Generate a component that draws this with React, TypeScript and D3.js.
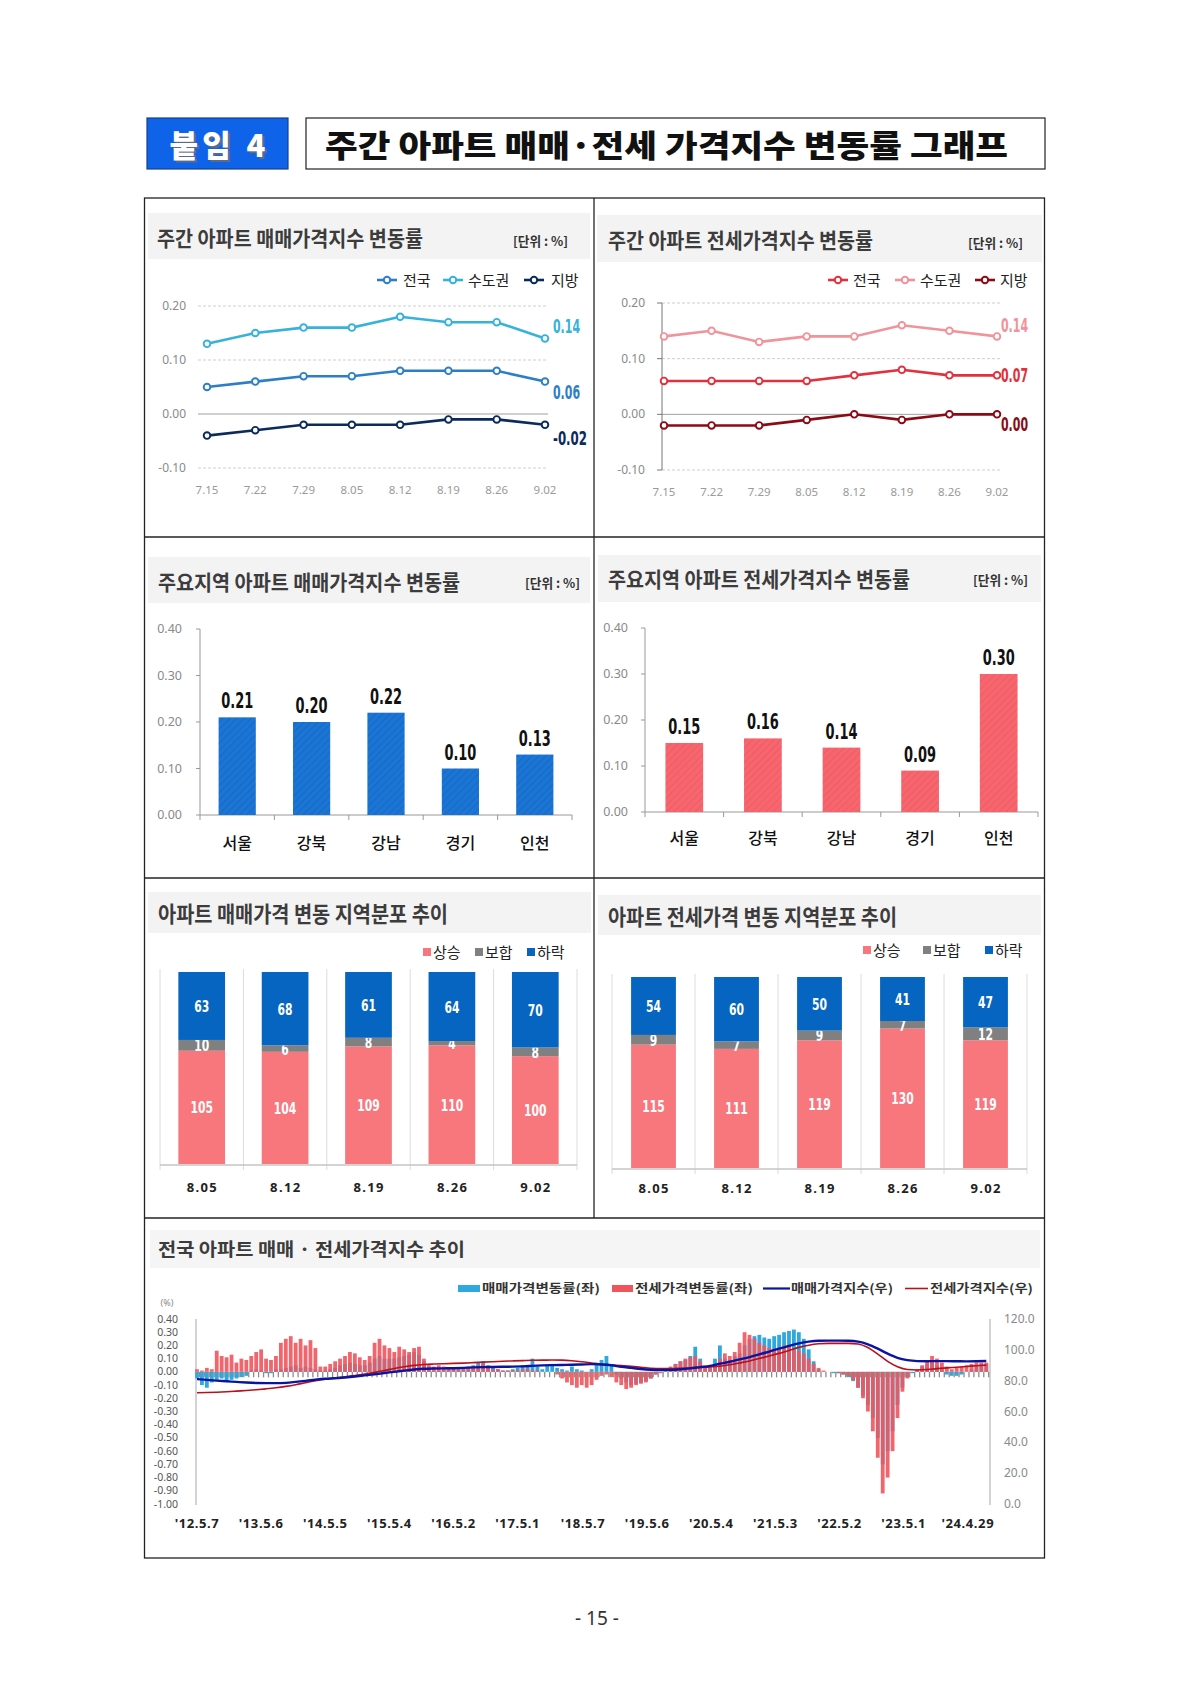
import React from 'react';
import * as d3 from 'd3';

const KR = "'Noto Sans CJK KR','Noto Sans',sans-serif";
const NARROW = "'Liberation Sans Narrow','DejaVu Sans Condensed',Arial,sans-serif";
const PLAIN = "'Noto Sans','DejaVu Sans',sans-serif";

// weekly change rates (%)
const weekLabels = ['7.15', '7.22', '7.29', '8.05', '8.12', '8.19', '8.26', '9.02'];
const saleNation = [0.05, 0.06, 0.07, 0.07, 0.08, 0.08, 0.08, 0.06];
const saleCapital = [0.13, 0.15, 0.16, 0.16, 0.18, 0.17, 0.17, 0.14];
const saleLocal = [-0.04, -0.03, -0.02, -0.02, -0.02, -0.01, -0.01, -0.02];
const jeonseNation = [0.06, 0.06, 0.06, 0.06, 0.07, 0.08, 0.07, 0.07];
const jeonseCapital = [0.14, 0.15, 0.13, 0.14, 0.14, 0.16, 0.15, 0.14];
const jeonseLocal = [-0.02, -0.02, -0.02, -0.01, 0.0, -0.01, 0.0, 0.0];

// major regions
const regions = ['서울', '강북', '강남', '경기', '인천'];
const saleRegion = [0.21, 0.2, 0.22, 0.1, 0.13];
const jeonseRegion = [0.15, 0.16, 0.14, 0.09, 0.3];

// regional distribution (number of regions)
const distWeeks = ['8.05', '8.12', '8.19', '8.26', '9.02'];
const saleUp = [105, 104, 109, 110, 100];
const saleFlat = [10, 6, 8, 4, 8];
const saleDown = [63, 68, 61, 64, 70];
const jeonseUp = [115, 111, 119, 130, 119];
const jeonseFlat = [9, 7, 9, 7, 12];
const jeonseDown = [54, 60, 50, 41, 47];

// long-run series: change rates every 4 weeks from 2012-05-07, indices every 8 weeks
const saleChange = [
  -0.05, -0.1, -0.12, -0.08, -0.06, -0.05, -0.07, -0.06, -0.05, -0.04, -0.03, 0.01, 0.02,
  0.01, -0.01, -0.01, 0.02, 0.02, 0.03, 0.04, 0.05, 0.03, 0.04, 0.03, 0.02, 0.01,
  0.01, 0.02, 0.03, 0.05, 0.06, 0.07, 0.06, 0.05, 0.05, 0.07, 0.1, 0.12, 0.1,
  0.1, 0.1, 0.11, 0.12, 0.13, 0.15, 0.13, 0.08, 0.03, 0.01, 0.01, 0.02, 0.02,
  0.02, 0.02, 0.03, 0.04, 0.05, 0.07, 0.08, 0.05, 0.03, 0.02, 0.01, 0.01, 0.02,
  0.03, 0.05, 0.04, 0.1, 0.04, 0.02, 0.05, 0.06, 0.03, 0.02, 0.01, 0.04, 0.02,
  0.01, 0.0, 0.02, 0.05, 0.09, 0.12, 0.05, -0.02, -0.05, -0.08, -0.1, -0.09, -0.08,
  -0.07, -0.05, -0.02, 0.0, 0.01, 0.03, 0.06, 0.08, 0.09, 0.12, 0.19, 0.1, 0.03,
  0.04, 0.1, 0.2, 0.1, 0.09, 0.12, 0.14, 0.2, 0.25, 0.27, 0.28, 0.26, 0.25,
  0.27, 0.28, 0.3, 0.31, 0.32, 0.3, 0.25, 0.17, 0.08, 0.02, 0.0, 0.0, -0.01,
  -0.01, -0.02, -0.04, -0.07, -0.12, -0.18, -0.25, -0.35, -0.5, -0.7, -0.6, -0.45, -0.25,
  -0.12, -0.04, -0.01, 0.01, 0.04, 0.06, 0.07, 0.05, 0.02, -0.02, -0.03, -0.03, -0.02,
  0.0, 0.02, 0.04, 0.06, 0.06,
];
const jeonseChange = [
  0.02, 0.01, 0.03, 0.02, 0.16, 0.12, 0.11, 0.13, 0.07, 0.1, 0.09, 0.12, 0.15,
  0.17, 0.1, 0.09, 0.12, 0.22, 0.25, 0.27, 0.22, 0.25, 0.2, 0.24, 0.18, 0.04,
  0.04, 0.06, 0.08, 0.1, 0.12, 0.15, 0.14, 0.11, 0.09, 0.12, 0.22, 0.25, 0.2,
  0.18, 0.15, 0.19, 0.17, 0.15, 0.18, 0.19, 0.1, 0.05, 0.04, 0.05, 0.04, 0.03,
  0.03, 0.02, 0.02, 0.03, 0.04, 0.05, 0.06, 0.04, 0.02, 0.02, 0.01, 0.01, 0.01,
  0.01, 0.02, 0.02, 0.01, 0.01, 0.0, 0.0, 0.0, -0.02, -0.05, -0.08, -0.1, -0.12,
  -0.1, -0.12, -0.1, -0.06, -0.03, -0.02, -0.04, -0.08, -0.1, -0.13, -0.12, -0.1, -0.09,
  -0.08, -0.05, -0.02, -0.01, 0.0, 0.04, 0.06, 0.08, 0.1, 0.11, 0.12, 0.08, 0.04,
  0.03, 0.05, 0.1, 0.14, 0.12, 0.15, 0.22, 0.3, 0.28, 0.25, 0.22, 0.2, 0.18,
  0.17, 0.18, 0.2, 0.19, 0.17, 0.16, 0.14, 0.1, 0.06, 0.03, 0.01, 0.0, 0.0,
  -0.01, -0.02, -0.03, -0.06, -0.12, -0.2, -0.3, -0.45, -0.65, -0.92, -0.8, -0.6, -0.35,
  -0.15, -0.05, 0.0, 0.02, 0.05, 0.08, 0.12, 0.1, 0.07, 0.04, 0.02, 0.03, 0.04,
  0.05, 0.06, 0.07, 0.07, 0.07,
];
const saleIndex = [
  81.0, 80.5, 80.0, 79.6, 79.2, 78.8, 78.5, 78.4, 78.4, 78.6, 79.2, 79.9, 80.6, 81.2, 81.6, 82.1,
  82.7, 83.4, 84.2, 85.0, 85.7, 86.5, 87.2, 87.7, 87.9, 88.0, 88.1, 88.3, 88.6, 88.8, 88.9, 89.0,
  89.1, 89.3, 89.6, 89.9, 90.1, 90.2, 90.3, 90.5, 90.7, 90.5, 90.0, 89.0, 88.3, 87.6, 87.1, 86.9,
  87.0, 87.4, 88.0, 88.8, 89.6, 91.0, 92.3, 93.8, 95.3, 97.0, 98.9, 100.8, 102.6, 104.2, 105.3, 105.9,
  106.0, 106.0, 105.9, 105.3, 103.6, 100.8, 97.5, 94.8, 93.3, 92.7, 92.6, 92.7, 92.7, 92.6, 92.5, 92.6,
  92.8,
];
const jeonseIndex = [
  72.2, 72.3, 72.5, 72.8, 73.2, 73.6, 74.1, 74.7, 75.4, 76.3, 77.4, 78.7, 80.0, 81.0, 81.7, 82.5,
  83.4, 84.3, 85.4, 86.6, 87.9, 89.0, 89.9, 90.5, 90.8, 91.0, 91.2, 91.4, 91.7, 92.0, 92.3, 92.6,
  92.8, 93.0, 93.2, 93.3, 93.4, 93.3, 92.9, 92.3, 91.5, 90.7, 90.2, 89.8, 89.3, 88.7, 88.1, 87.8,
  87.8, 88.0, 88.3, 88.6, 88.9, 89.4, 90.3, 91.5, 92.8, 94.4, 96.0, 97.7, 99.6, 101.6, 103.0, 103.9,
  104.2, 104.2, 104.2, 103.8, 101.5, 97.2, 92.5, 89.0, 87.2, 86.9, 87.2, 87.8, 88.3, 88.7, 89.2, 89.7,
  90.1,
];
const longTickLabels = ["'12.5.7", "'13.5.6", "'14.5.5", "'15.5.4", "'16.5.2", "'17.5.1", "'18.5.7", "'19.5.6", "'20.5.4", "'21.5.3", "'22.5.2", "'23.5.1", "'24.4.29"];
const longTickDates = ['2012-05-07', '2013-05-06', '2014-05-05', '2015-05-04', '2016-05-02', '2017-05-01', '2018-05-07', '2019-05-06', '2020-05-04', '2021-05-03', '2022-05-02', '2023-05-01', '2024-04-29'];

type Series = { name: string; values: number[]; color: string; dy: number };
type LegendItem = { name: string; color: string; lineX: number; textX: number };

function PanelTitle({ x, y, text, len, size, band }: { x: number; y: number; text: string; len: number; size: number; band: [number, number, number, number] }) {
  return (
    <g>
      <rect x={band[0]} y={band[1]} width={band[2] - band[0]} height={band[3] - band[1]} fill="#f3f3f3" />
      <text x={x} y={y} fontSize={size} fontWeight={700} fill="#3c3c3c" fontFamily={KR} textLength={len} lengthAdjust="spacingAndGlyphs">{text}</text>
    </g>
  );
}

function Unit({ x, y }: { x: number; y: number }) {
  return <text x={x} y={y} fontSize={13} fontWeight={700} fill="#333" fontFamily={KR} textLength={55} lengthAdjust="spacingAndGlyphs">[단위 : %]</text>;
}

function WeeklyLines({ series, legend, xRange, yRange, grid, axisX, tickX, xLabelY, endX }: {
  series: Series[]; legend: LegendItem[]; xRange: [number, number]; yRange: [number, number];
  grid: [number, number]; axisX: number | null; tickX: number; xLabelY: number; endX: number;
}) {
  const x = d3.scalePoint<string>().domain(weekLabels).range(xRange);
  const y = d3.scaleLinear().domain([-0.1, 0.2]).range(yRange);
  const ticks = y.ticks(3);
  return (
    <g>
      {legend.map(l => (
        <g key={l.name}>
          <line x1={l.lineX} x2={l.lineX + 20} y1={280} y2={280} stroke={l.color} strokeWidth={2.6} />
          <circle cx={l.lineX + 10} cy={280} r={3.2} fill="#fff" stroke={l.color} strokeWidth={2} />
          <text x={l.textX} y={286} fontSize={15} fill="#222" fontFamily={KR}>{l.name}</text>
        </g>
      ))}
      {ticks.map(t => (
        <g key={t}>
          <line x1={grid[0]} x2={grid[1]} y1={y(t)} y2={y(t)} stroke={t === 0 ? '#a0a0a0' : '#cfcfcf'} strokeDasharray={t === 0 ? undefined : '3,2'} />
          {axisX !== null && <line x1={axisX - 5} x2={axisX} y1={y(t)} y2={y(t)} stroke="#777" />}
          <text x={tickX} y={y(t) + 4} textAnchor="end" fontSize={12} fill="#8a8a8a" fontFamily={PLAIN}>{t.toFixed(2)}</text>
        </g>
      ))}
      {axisX !== null && <line x1={axisX} x2={axisX} y1={y(0.2)} y2={y(-0.1)} stroke="#777" />}
      {weekLabels.map(w => (
        <text key={w} x={x(w)} y={xLabelY} textAnchor="middle" fontSize={11.5} fill="#9a9a9a" fontFamily={PLAIN}>{w}</text>
      ))}
      {series.map(s => {
        const line = d3.line<number>().x((_, i) => x(weekLabels[i]) as number).y(v => y(v));
        const last = s.values[s.values.length - 1];
        const label = last.toFixed(2);
        return (
          <g key={s.name}>
            <path d={line(s.values) || ''} fill="none" stroke={s.color} strokeWidth={2.6} />
            {s.values.map((v, i) => (
              <circle key={i} cx={x(weekLabels[i])} cy={y(v)} r={3.3} fill="#fff" stroke={s.color} strokeWidth={1.9} />
            ))}
            <text x={endX} y={y(last) + s.dy + 7} fontSize={20} fontWeight={600} fill={s.color} fontFamily={NARROW} textLength={label.length * 7 - 1} lengthAdjust="spacingAndGlyphs">{label}</text>
          </g>
        );
      })}
    </g>
  );
}

function RegionBars({ values, xRange, yRange, ratio, color, stripe, pid, tickX, catY }: {
  values: number[]; xRange: [number, number]; yRange: [number, number]; ratio: number;
  color: string; stripe: string; pid: string; tickX: number; catY: number;
}) {
  const x = d3.scaleBand<string>().domain(regions).range(xRange);
  const y = d3.scaleLinear().domain([0, 0.4]).range(yRange);
  const bw = x.bandwidth() * ratio;
  return (
    <g>
      <defs>
        <pattern id={pid} width={5} height={5} patternUnits="userSpaceOnUse" patternTransform="rotate(45)">
          <rect width={5} height={5} fill={color} />
          <line x1={0} y1={0} x2={0} y2={5} stroke={stripe} strokeWidth={1.6} />
        </pattern>
      </defs>
      {y.ticks(4).map(t => (
        <g key={t}>
          <line x1={xRange[0] - 4} x2={xRange[0]} y1={y(t)} y2={y(t)} stroke="#999" />
          <text x={tickX} y={y(t) + 4} textAnchor="end" fontSize={12.5} fill="#8a8a8a" fontFamily={PLAIN}>{t.toFixed(2)}</text>
        </g>
      ))}
      <line x1={xRange[0]} x2={xRange[0]} y1={y(0.4)} y2={y(0)} stroke="#999" />
      <line x1={xRange[0]} x2={xRange[1]} y1={y(0)} y2={y(0)} stroke="#999" />
      {d3.range(regions.length + 1).map(k => (
        <line key={k} x1={xRange[0] + k * x.step()} x2={xRange[0] + k * x.step()} y1={y(0)} y2={y(0) + 5} stroke="#999" />
      ))}
      {regions.map((r, i) => {
        const cx = (x(r) as number) + x.bandwidth() / 2;
        return (
          <g key={r}>
            <rect x={cx - bw / 2} y={y(values[i])} width={bw} height={y(0) - y(values[i])} fill={`url(#${pid})`} />
            <text x={cx} y={y(values[i]) - 9} textAnchor="middle" fontSize={22} fontWeight={700} fill="#111" fontFamily={NARROW} textLength={32} lengthAdjust="spacingAndGlyphs">{values[i].toFixed(2)}</text>
            <text x={cx} y={catY} textAnchor="middle" fontSize={16} fontWeight={500} fill="#111" fontFamily={KR}>{r}</text>
          </g>
        );
      })}
    </g>
  );
}

const distColors = { up: '#f7777d', flat: '#808080', down: '#0565c0' };

function DistBars({ up, flat, down, xRange, yRange, ratio, labelY, legendX, legendY }: {
  up: number[]; flat: number[]; down: number[]; xRange: [number, number]; yRange: [number, number];
  ratio: number; labelY: number; legendX: [number, number, number]; legendY: number;
}) {
  const rows = distWeeks.map((w, i) => ({ week: w, up: up[i], flat: flat[i], down: down[i] }));
  const keys = ['up', 'flat', 'down'] as const;
  const stacked = d3.stack<any>().keys(keys as any)(rows);
  const total = d3.max(rows, r => r.up + r.flat + r.down) || 0;
  const x = d3.scaleBand<string>().domain(distWeeks).range(xRange);
  const y = d3.scaleLinear().domain([0, total]).range(yRange);
  const bw = x.bandwidth() * ratio;
  const names = ['상승', '보합', '하락'];
  return (
    <g>
      {keys.map((k, i) => (
        <g key={k}>
          <rect x={legendX[i]} y={legendY - 4} width={8} height={8} fill={distColors[k]} />
          <text x={legendX[i] + 10} y={legendY + 5.5} fontSize={15} fill="#222" fontFamily={KR}>{names[i]}</text>
        </g>
      ))}
      {d3.range(distWeeks.length + 1).map(k => (
        <line key={k} x1={xRange[0] + k * x.step()} x2={xRange[0] + k * x.step()} y1={yRange[1] - 3} y2={yRange[0] + 6} stroke="#dcdcdc" />
      ))}
      <line x1={xRange[0]} x2={xRange[1]} y1={yRange[0] + 1} y2={yRange[0] + 1} stroke="#c4c4c4" strokeWidth={1.5} />
      {stacked.map((layer, li) => (
        <g key={layer.key}>
          {layer.map((seg, i) => {
            const cx = (x(distWeeks[i]) as number) + x.bandwidth() / 2;
            const y0 = y(seg[0]);
            const y1 = y(seg[1]);
            const label = String(seg[1] - seg[0]);
            return (
              <g key={i}>
                <rect x={cx - bw / 2} y={y1} width={bw} height={y0 - y1} fill={distColors[keys[li]]} />
                <text x={cx} y={(y0 + y1) / 2 + 6} textAnchor="middle" fontSize={16} fontWeight={700} fill="#fff" fontFamily={NARROW} textLength={label.length * 7.5} lengthAdjust="spacingAndGlyphs">{label}</text>
              </g>
            );
          })}
        </g>
      ))}
      {distWeeks.map(w => (
        <text key={w} x={(x(w) as number) + x.bandwidth() / 2} y={labelY} textAnchor="middle" fontSize={13} fontWeight={700} fill="#222" fontFamily={PLAIN} textLength={30} lengthAdjust="spacing">{w}</text>
      ))}
    </g>
  );
}

function LongChart() {
  const start = new Date(2012, 4, 7);
  const end = new Date(2024, 8, 2);
  const parse = d3.timeParse('%Y-%m-%d');
  const changeDates = saleChange.map((_, i) => d3.timeDay.offset(start, i * 28));
  const indexDates = saleIndex.map((_, i) => d3.timeDay.offset(start, i * 56));
  const x = d3.scaleTime().domain([start, end]).range([197, 990]);
  const yL = d3.scaleLinear().domain([-1, 0.4]).range([1504, 1319]);
  const yR = d3.scaleLinear().domain([0, 120]).range([1504, 1319]);
  const z = yL(0);
  const bw = 3.8;
  const idxLine = d3.line<number>().x((_, i) => x(indexDates[i])).y(v => yR(v)).curve(d3.curveMonotoneX);
  const legendItems = [
    { kind: 'bar', color: '#2ea8df', x0: 458, x1: 480, tx: 482, len: 118, text: '매매가격변동률(좌)' },
    { kind: 'bar', color: '#f0555c', x0: 612, x1: 633, tx: 635, len: 118, text: '전세가격변동률(좌)' },
    { kind: 'line', color: '#0a14a0', x0: 763, x1: 790, tx: 791, len: 102, text: '매매가격지수(우)' },
    { kind: 'line', color: '#b8101c', x0: 905, x1: 928, tx: 930, len: 103, text: '전세가격지수(우)' },
  ];
  return (
    <g>
      {legendItems.map(l => (
        <g key={l.text}>
          {l.kind === 'bar'
            ? <rect x={l.x0} y={1285} width={l.x1 - l.x0} height={7} fill={l.color} />
            : <line x1={l.x0} x2={l.x1} y1={1288.5} y2={1288.5} stroke={l.color} strokeWidth={l.color === '#0a14a0' ? 2.2 : 1.6} />}
          <text x={l.tx} y={1293} fontSize={12} fontWeight={700} fill="#333" fontFamily={KR} textLength={l.len} lengthAdjust="spacingAndGlyphs">{l.text}</text>
        </g>
      ))}
      <text x={167} y={1306} textAnchor="middle" fontSize={9} fill="#888" fontFamily={PLAIN}>(%)</text>
      {yL.ticks(14).map(t => (
        <text key={t} x={178} y={yL(t) + 3.5} textAnchor="end" fontSize={10.5} fill="#555" fontFamily={PLAIN}>{t.toFixed(2)}</text>
      ))}
      {yR.ticks(6).map(t => (
        <text key={t} x={1004} y={yR(t) + 4} fontSize={12} fill="#8a8a8a" fontFamily={PLAIN}>{t.toFixed(1)}</text>
      ))}
      <line x1={196} x2={196} y1={1319} y2={1505} stroke="#a8a8a8" />
      <line x1={990} x2={990} y1={1319} y2={1505} stroke="#a8a8a8" />
      {saleChange.map((v, i) => (
        <rect key={'s' + i} x={x(changeDates[i]) - bw / 2} y={Math.min(yL(v), z)} width={bw} height={Math.abs(yL(v) - z)} fill="#2ea8df" />
      ))}
      {jeonseChange.map((v, i) => (
        <rect key={'j' + i} x={x(changeDates[i]) - bw / 2} y={Math.min(yL(v), z)} width={bw} height={Math.abs(yL(v) - z)} fill="#ef555d" opacity={0.9} />
      ))}
      {changeDates.map((d, i) => (
        <line key={'t' + i} x1={x(d) + 2.4} x2={x(d) + 2.4} y1={z} y2={z + 5.5} stroke="#8c8c8c" strokeWidth={1.3} />
      ))}
      <path d={idxLine(jeonseIndex) || ''} fill="none" stroke="#b8101c" strokeWidth={1.6} />
      <path d={idxLine(saleIndex) || ''} fill="none" stroke="#0a14a0" strokeWidth={2.4} />
      {longTickLabels.map((t, i) => (
        <text key={t} x={x(parse(longTickDates[i]) as Date)} y={1528} textAnchor="middle" fontSize={13} fontWeight={700} fill="#222" fontFamily={PLAIN} letterSpacing={0.6}>{t}</text>
      ))}
    </g>
  );
}

export default function App() {
  return (
    <svg width={1190} height={1682} style={{ position: 'absolute', left: 0, top: 0, background: '#fff' }} fontFamily={KR}>
      <rect width={1190} height={1682} fill="#fff" />
      {/* header */}
      <rect x={147} y={118} width={141} height={51} fill="#0f63e8" stroke="#17408f" strokeWidth={1.2} />
      <text x={219.5} y={158.5} textAnchor="middle" fontSize={31} fontWeight={900} fill="#5a6a8a" fontFamily={KR} textLength={96} lengthAdjust="spacing">붙임 4</text>
      <text x={217.5} y={156.5} textAnchor="middle" fontSize={31} fontWeight={900} fill="#fff" fontFamily={KR} textLength={96} lengthAdjust="spacing">붙임 4</text>
      <rect x={306} y={118} width={739} height={51} fill="#fff" stroke="#222" strokeWidth={1.2} />
      <text x={325} y={157} fontSize={31} fontWeight={900} fill="#111" fontFamily={KR} textLength={683} lengthAdjust="spacingAndGlyphs">주간 아파트 매매·전세 가격지수 변동률 그래프</text>

      {/* grid */}
      <rect x={144.5} y={198} width={900} height={1360} fill="none" stroke="#222" strokeWidth={1.3} />
      <line x1={594} x2={594} y1={198} y2={1218} stroke="#222" strokeWidth={1.3} />
      <line x1={144.5} x2={1044.5} y1={537} y2={537} stroke="#222" strokeWidth={1.3} />
      <line x1={144.5} x2={1044.5} y1={878} y2={878} stroke="#222" strokeWidth={1.3} />
      <line x1={144.5} x2={1044.5} y1={1218} y2={1218} stroke="#222" strokeWidth={1.3} />

      {/* panel 1 */}
      <PanelTitle x={157} y={246} text="주간 아파트 매매가격지수 변동률" len={266} size={21} band={[148, 213, 590, 259]} />
      <Unit x={513} y={246} />
      <WeeklyLines
        series={[
          { name: '수도권', values: saleCapital, color: '#36b2dc', dy: -12 },
          { name: '전국', values: saleNation, color: '#2c7fc6', dy: 10 },
          { name: '지방', values: saleLocal, color: '#0c2a5c', dy: 13 },
        ]}
        legend={[
          { name: '전국', color: '#2c7fc6', lineX: 377, textX: 403 },
          { name: '수도권', color: '#36b2dc', lineX: 443, textX: 468 },
          { name: '지방', color: '#0c2a5c', lineX: 524, textX: 551 },
        ]}
        xRange={[207, 545]} yRange={[468, 306]} grid={[198, 548]} axisX={null} tickX={186} xLabelY={494} endX={553}
      />

      {/* panel 2 */}
      <PanelTitle x={608} y={248} text="주간 아파트 전세가격지수 변동률" len={265} size={21} band={[597, 215, 1042, 262]} />
      <Unit x={968} y={248} />
      <WeeklyLines
        series={[
          { name: '수도권', values: jeonseCapital, color: '#f0939a', dy: -11 },
          { name: '전국', values: jeonseNation, color: '#e2303d', dy: 0 },
          { name: '지방', values: jeonseLocal, color: '#8a0a16', dy: 10 },
        ]}
        legend={[
          { name: '전국', color: '#e2303d', lineX: 828, textX: 853 },
          { name: '수도권', color: '#f0939a', lineX: 895, textX: 920 },
          { name: '지방', color: '#8a0a16', lineX: 975, textX: 1000 },
        ]}
        xRange={[664, 997]} yRange={[470, 303]} grid={[662, 1000]} axisX={662} tickX={645} xLabelY={496} endX={1001}
      />

      {/* panel 3 */}
      <PanelTitle x={158} y={590} text="주요지역 아파트 매매가격지수 변동률" len={302} size={21} band={[148, 557, 590, 603]} />
      <Unit x={525} y={588} />
      <RegionBars values={saleRegion} xRange={[200, 572]} yRange={[815, 629]} ratio={0.5} color="#1a75d4" stripe="#1666bf" pid="blueHatch" tickX={182} catY={849} />

      {/* panel 4 */}
      <PanelTitle x={608} y={587} text="주요지역 아파트 전세가격지수 변동률" len={302} size={21} band={[598, 555, 1041, 602]} />
      <Unit x={973} y={585} />
      <RegionBars values={jeonseRegion} xRange={[645, 1038]} yRange={[812, 628]} ratio={0.48} color="#f7666e" stripe="#ec5860" pid="redHatch" tickX={628} catY={844} />

      {/* panel 5 */}
      <PanelTitle x={158} y={922} text="아파트 매매가격 변동 지역분포 추이" len={290} size={22} band={[148, 892, 591, 933]} />
      <DistBars up={saleUp} flat={saleFlat} down={saleDown} xRange={[160, 577]} yRange={[1164, 972]} ratio={0.56} labelY={1192} legendX={[423, 475, 527]} legendY={952} />

      {/* panel 6 */}
      <PanelTitle x={608} y={925} text="아파트 전세가격 변동 지역분포 추이" len={289} size={22} band={[598, 895, 1041, 935]} />
      <DistBars up={jeonseUp} flat={jeonseFlat} down={jeonseDown} xRange={[612, 1027]} yRange={[1168, 977]} ratio={0.54} labelY={1193} legendX={[863, 923, 985]} legendY={950} />

      {/* panel 7 */}
      <rect x={150} y={1230} width={890} height={38} fill="#f5f5f5" />
      <text x={158} y={1256} fontSize={18} fontWeight={700} fill="#3c3c3c" fontFamily={KR} textLength={307} lengthAdjust="spacingAndGlyphs">전국 아파트 매매 · 전세가격지수 추이</text>
      <LongChart />

      <text x={597} y={1625} textAnchor="middle" fontSize={19} fill="#333" fontFamily={PLAIN}>- 15 -</text>
    </svg>
  );
}
